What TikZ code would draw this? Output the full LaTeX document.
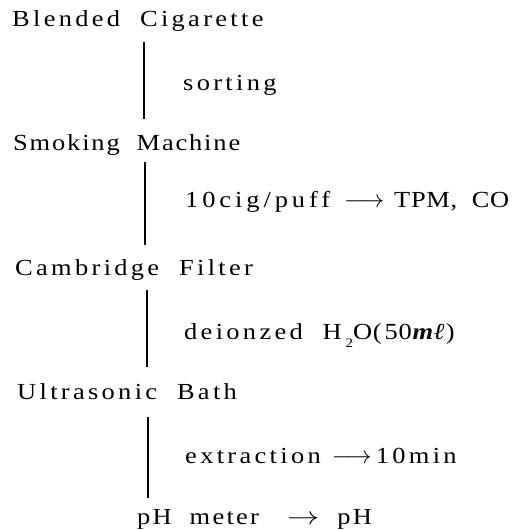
\documentclass[tikz,border=0pt]{standalone}
\usepackage{fontspec}
\setmainfont{Liberation Serif}[LetterSpace=14.4,FakeStretch=1.15,WordSpace=2]
\newcommand\dsub[1]{\,\raisebox{-8pt}{\fontsize{13}{13}\selectfont #1}}
\begin{document}
\begin{tikzpicture}[x=1pt,y=-1pt,
  lbl/.style={anchor=base west, inner sep=0pt, font=\fontsize{23}{27}\selectfont},
  conn/.style={line width=1.8pt}]
\useasboundingbox (0,0) rectangle (524,530);
\node[lbl] (bc) at (12,27) {Blended Cigarette};
\node[lbl] (so) at (183,90) {sorting};
\node[lbl] (sm) at (13,150) {\addfontfeature{LetterSpace=8}Smoking Machine};
\node[lbl] (cig) at (185,207) {\addfontfeature{LetterSpace=17}10cig/puff\hspace{14pt}$\longrightarrow$\hspace{10pt}{\addfontfeature{LetterSpace=3}TPM, CO}};
\node[lbl] (cf) at (15,275) {Cambridge Filter};
\node[lbl] (de) at (184,339) {deionzed H\dsub{2}{\addfontfeature{LetterSpace=3}O(\hspace{3pt}50\textbf{\textit{mℓ}})}};
\node[lbl] (ub) at (17,399) {Ultrasonic Bath};
\node[lbl] (ex) at (185,463) {extraction\hspace{11pt}$\longrightarrow$\hspace{4pt}10min};
\node[lbl] (ph) at (137,524) {\addfontfeature{LetterSpace=10}pH meter\hspace{28pt}\scalebox{1.3}[1]{$\rightarrow$}\hspace{18pt}pH};
\coordinate (a1) at (144,42);  \coordinate (b1) at (144,119);
\coordinate (a2) at (145,162); \coordinate (b2) at (145,245);
\coordinate (a3) at (147,290); \coordinate (b3) at (147,367);
\coordinate (a4) at (148,417); \coordinate (b4) at (148,498);
\draw[conn] (a1) -- (b1);
\draw[conn] (a2) -- (b2);
\draw[conn] (a3) -- (b3);
\draw[conn] (a4) -- (b4);
\end{tikzpicture}
\end{document}
